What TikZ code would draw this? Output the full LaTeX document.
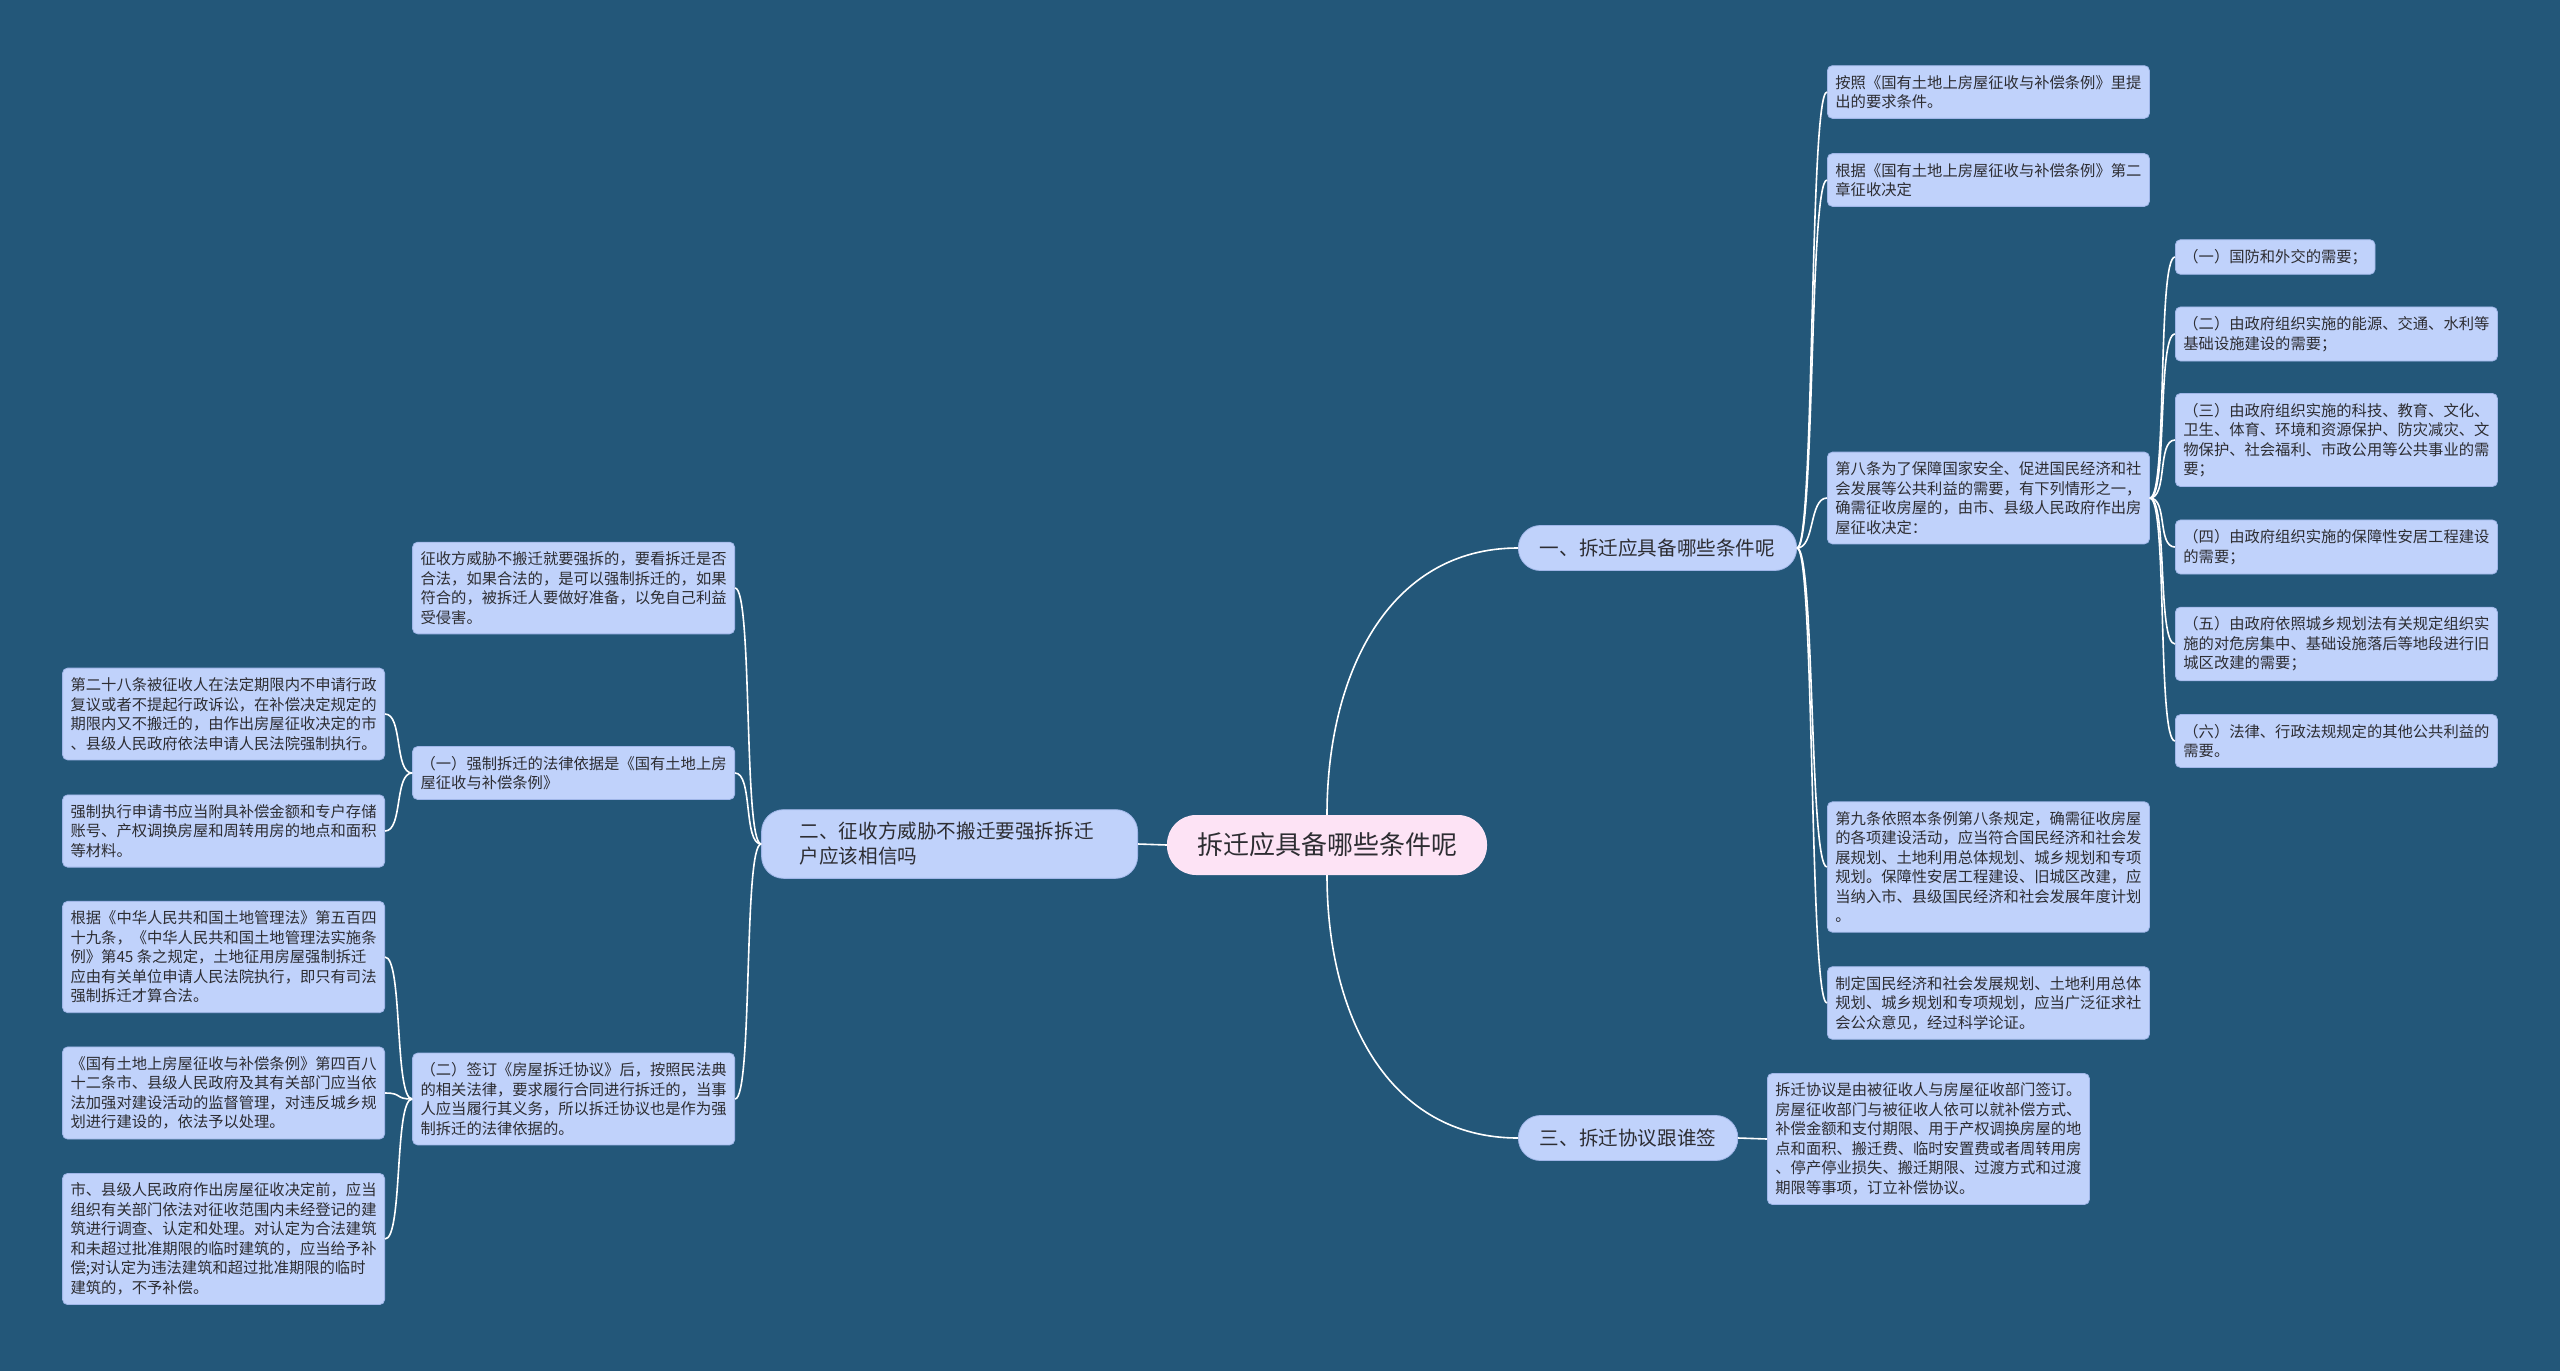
\documentclass[tikz,border=0pt]{standalone}
\usepackage{fontspec}
\setmainfont{Noto Sans CJK SC}
\usepackage{tikz}
\usetikzlibrary{positioning}
\definecolor{bgcol}{RGB}{35,87,121}
\definecolor{leafcol}{RGB}{192,210,251}
\definecolor{leafborder}{RGB}{160,182,232}
\definecolor{rootcol}{RGB}{253,227,245}
\definecolor{textcol}{RGB}{45,45,50}

\begin{document}
\begin{tikzpicture}[
                x=1pt, y=-1pt,
                font=\fontsize{15.3}{19.5}\selectfont,
                leaf/.style={rectangle, rounded corners=5pt, fill=leafcol, draw=leafborder, line width=0.8pt, text=textcol, align=left, inner xsep=8pt, inner ysep=9.5pt},
                branch/.style={rectangle, rounded corners=22pt, fill=leafcol, draw=leafborder, line width=0.8pt, text=textcol, align=left, font=\fontsize{19.6}{25}\selectfont, inner xsep=21.5pt, inner ysep=12.7pt, minimum height=45pt},
                rootnode/.style={rectangle, rounded corners=29pt, fill=rootcol, text=textcol, font=\fontsize{26}{30}\selectfont, inner xsep=30pt, minimum height=60pt},
                edgeline/.style={draw=white, line width=1.6pt},
                linkr/.style={edgeline, to path={.. controls +(18,0) and +(-18,0) .. (\tikztotarget)}},
                linkl/.style={edgeline, to path={.. controls +(-18,0) and +(18,0) .. (\tikztotarget)}}
                ]
                \useasboundingbox (0,0) rectangle (2560,1371);
                \fill[bgcol] (0,0) rectangle (2560,1371);

                \node[rootnode] (root) at (1327,845) {拆迁应具备哪些条件呢};
                \node[branch, anchor=west] (br1) at (1518,548) {一、拆迁应具备哪些条件呢};
                \node[branch, anchor=east, text width=300pt, inner xsep=38pt] (br2) at (1138,844) {二、征收方威胁不搬迁要强拆拆迁\\户应该相信吗};
                \node[branch, anchor=west] (br3) at (1518,1138) {三、拆迁协议跟谁签};

                % right side
                \node[leaf, anchor=west] (a1) at (1827,92) {按照《国有土地上房屋征收与补偿条例》里提\\出的要求条件。};
                \node[leaf, anchor=west] (a2) at (1827,180) {根据《国有土地上房屋征收与补偿条例》第二\\章征收决定};
                \node[leaf, anchor=west] (a3) at (1827,498) {第八条为了保障国家安全、促进国民经济和社\\会发展等公共利益的需要，有下列情形之一，\\确需征收房屋的，由市、县级人民政府作出房\\屋征收决定：};
                \node[leaf, anchor=west] (a4) at (1827,867) {第九条依照本条例第八条规定，确需征收房屋\\的各项建设活动，应当符合国民经济和社会发\\展规划、土地利用总体规划、城乡规划和专项\\规划。保障性安居工程建设、旧城区改建，应\\当纳入市、县级国民经济和社会发展年度计划\\。};
                \node[leaf, anchor=west] (a5) at (1827,1003) {制定国民经济和社会发展规划、土地利用总体\\规划、城乡规划和专项规划，应当广泛征求社\\会公众意见，经过科学论证。};

                \node[leaf, anchor=west] (e1) at (2175,257) {（一）国防和外交的需要；};
                \node[leaf, anchor=west] (e2) at (2175,334) {（二）由政府组织实施的能源、交通、水利等\\基础设施建设的需要；};
                \node[leaf, anchor=west] (e3) at (2175,440) {（三）由政府组织实施的科技、教育、文化、\\卫生、体育、环境和资源保护、防灾减灾、文\\物保护、社会福利、市政公用等公共事业的需\\要；};
                \node[leaf, anchor=west] (e4) at (2175,547) {（四）由政府组织实施的保障性安居工程建设\\的需要；};
                \node[leaf, anchor=west] (e5) at (2175,644) {（五）由政府依照城乡规划法有关规定组织实\\施的对危房集中、基础设施落后等地段进行旧\\城区改建的需要；};
                \node[leaf, anchor=west] (e6) at (2175,741) {（六）法律、行政法规规定的其他公共利益的\\需要。};

                \node[leaf, anchor=west] (d1) at (1767,1139) {拆迁协议是由被征收人与房屋征收部门签订。\\房屋征收部门与被征收人依可以就补偿方式、\\补偿金额和支付期限、用于产权调换房屋的地\\点和面积、搬迁费、临时安置费或者周转用房\\、停产停业损失、搬迁期限、过渡方式和过渡\\期限等事项，订立补偿协议。};

                % left side
                \node[leaf, anchor=east] (b1) at (735,588) {征收方威胁不搬迁就要强拆的，要看拆迁是否\\合法，如果合法的，是可以强制拆迁的，如果\\符合的，被拆迁人要做好准备，以免自己利益\\受侵害。};
                \node[leaf, anchor=east] (b2) at (735,773) {（一）强制拆迁的法律依据是《国有土地上房\\屋征收与补偿条例》};
                \node[leaf, anchor=east] (b3) at (735,1099) {（二）签订《房屋拆迁协议》后，按照民法典\\的相关法律，要求履行合同进行拆迁的，当事\\人应当履行其义务，所以拆迁协议也是作为强\\制拆迁的法律依据的。};

                \node[leaf, anchor=east] (c1) at (385,714) {第二十八条被征收人在法定期限内不申请行政\\复议或者不提起行政诉讼，在补偿决定规定的\\期限内又不搬迁的，由作出房屋征收决定的市\\、县级人民政府依法申请人民法院强制执行。};
                \node[leaf, anchor=east] (c2) at (385,831) {强制执行申请书应当附具补偿金额和专户存储\\账号、产权调换房屋和周转用房的地点和面积\\等材料。};
                \node[leaf, anchor=east] (c3) at (385,957) {根据《中华人民共和国土地管理法》第五百四\\十九条，《中华人民共和国土地管理法实施条\\例》第45 条之规定，土地征用房屋强制拆迁\\应由有关单位申请人民法院执行，即只有司法\\强制拆迁才算合法。};
                \node[leaf, anchor=east] (c4) at (385,1093) {《国有土地上房屋征收与补偿条例》第四百八\\十二条市、县级人民政府及其有关部门应当依\\法加强对建设活动的监督管理，对违反城乡规\\划进行建设的，依法予以处理。};
                \node[leaf, anchor=east] (c5) at (385,1239) {市、县级人民政府作出房屋征收决定前，应当\\组织有关部门依法对征收范围内未经登记的建\\筑进行调查、认定和处理。对认定为合法建筑\\和未超过批准期限的临时建筑的，应当给予补\\偿;对认定为违法建筑和超过批准期限的临时\\建筑的，不予补偿。};

                % connectors
                \draw[edgeline] (root.north) .. controls +(0,-140) and +(-130,0) .. (br1.west);
                \draw[edgeline] (root.south) .. controls +(0,140) and +(-130,0) .. (br3.west);
                \draw[edgeline] (root.west) -- (br2.east);
                \draw[edgeline] (br3.east) -- (d1.west);

                \foreach \n in {a1,a2,a3,a4,a5}
                    \draw[linkr] (br1.east) to (\n.west);
                \foreach \n in {e1,e2,e3,e4,e5,e6}
                    \draw[linkr] (a3.east) to (\n.west);
                \foreach \n in {b1,b2,b3}
                    \draw[linkl] (br2.west) to (\n.east);
                \foreach \n in {c1,c2}
                    \draw[linkl] (b2.west) to (\n.east);
                \foreach \n in {c3,c4,c5}
                    \draw[linkl] (b3.west) to (\n.east);
            \end{tikzpicture}
\end{document}
